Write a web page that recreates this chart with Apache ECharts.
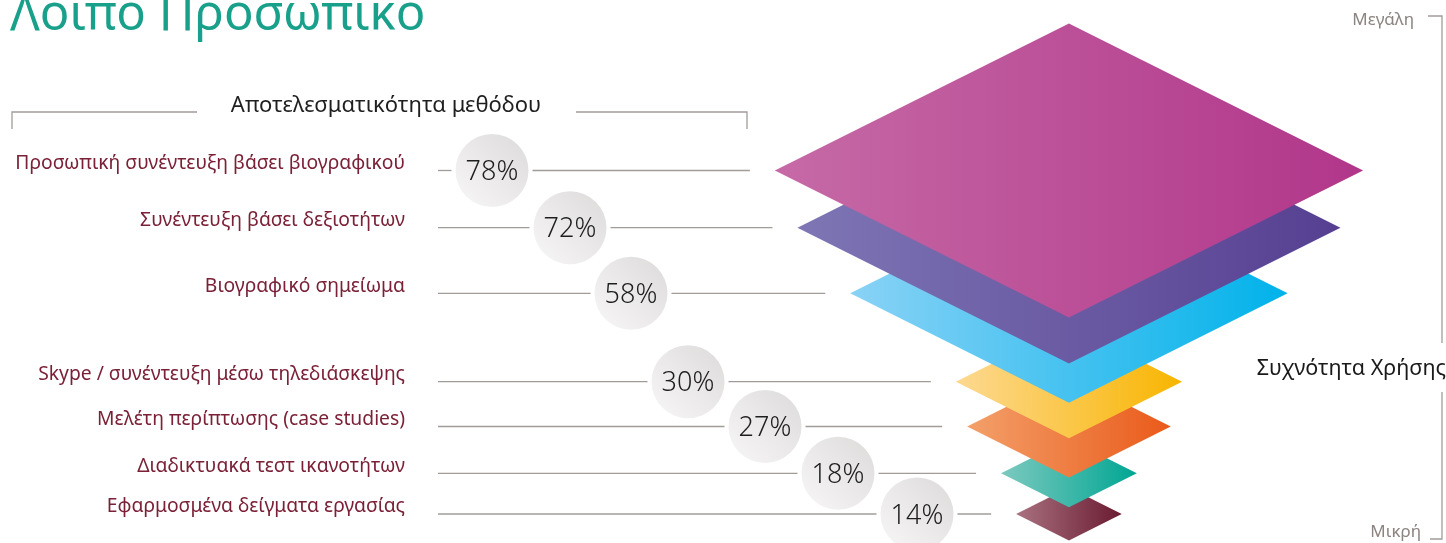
<!DOCTYPE html>
<html>
<head>
<meta charset="utf-8">
<script src="https://cdn.jsdelivr.net/npm/echarts@6/dist/echarts.min.js"></script>
<style>
html,body{margin:0;padding:0;background:#fff;}
#chart{width:1446px;height:543px;}
</style>
</head>
<body>
<div id="chart"></div>
<script>
// ---- data ----
const title = 'Λοιπό Προσωπικό';
const headerLabel = 'Αποτελεσματικότητα μεθόδου';
const frequencyLabel = 'Συχνότητα Χρήσης';
const frequencyHigh = 'Μεγάλη';
const frequencyLow = 'Μικρή';
const categories = [
  'Προσωπική συνέντευξη βάσει βιογραφικού',
  'Συνέντευξη βάσει δεξιοτήτων',
  'Βιογραφικό σημείωμα',
  'Skype / συνέντευξη μέσω τηλεδιάσκεψης',
  'Μελέτη περίπτωσης (case studies)',
  'Διαδικτυακά τεστ ικανοτήτων',
  'Εφαρμοσμένα δείγματα εργασίας'
];
const effectiveness = [78, 72, 58, 30, 27, 18, 14];

// ---- layout (pixels) ----
const rowY = [170.5, 227.7, 293.3, 381.7, 426.5, 473.3, 514];
const badgeX = [492, 570, 631, 688, 765, 838, 917];
const labelRight = 405;
const lineStart = 438;
const badgeR = 36.5;
const lineGapToDiamond = 25;

// ---- styles ----
const gradients = [
  ['#c66aa6', '#b1368a'],
  ['#7e76b5', '#563f91'],
  ['#8ad2f6', '#00b2ea'],
  ['#fdd992', '#f8b500'],
  ['#f3a06a', '#ea5a1a'],
  ['#7dc9bf', '#00a693'],
  ['#a97280', '#6a1a31']
];
const font = 'Noto Sans';
const lineColor = '#a29c98';

const chart = echarts.init(document.getElementById('chart'));

function diamondItem(params, api) {
  const v = api.value(0), y = api.value(1), i = api.value(2);
  const c = api.coord([0, y]);
  const e = api.coord([v, y]);
  const hw = e[0] - c[0];
  const hh = hw * 0.5;
  return {
    type: 'polygon',
    z2: 100 - i,
    shape: { points: [[c[0], c[1] - hh], [c[0] + hw, c[1]], [c[0], c[1] + hh], [c[0] - hw, c[1]]] },
    style: {
      fill: new echarts.graphic.LinearGradient(0, 0, 1, 0, [
        { offset: 0, color: gradients[i][0] },
        { offset: 1, color: gradients[i][1] }
      ])
    }
  };
}

function rowItem(params, api) {
  const v = api.value(0), y = api.value(1), i = api.value(2);
  const c = api.coord([0, y]);
  const e = api.coord([v, y]);
  const hw = e[0] - c[0];
  const py = c[1];
  const bx = badgeX[i];
  const lineEnd = c[0] - hw - lineGapToDiamond;
  return {
    type: 'group',
    children: [
      { type: 'line', shape: { x1: lineStart, y1: py, x2: bx - badgeR - 4, y2: py }, style: { stroke: lineColor, lineWidth: 1.3 } },
      { type: 'line', shape: { x1: bx + badgeR + 4, y1: py, x2: lineEnd, y2: py }, style: { stroke: lineColor, lineWidth: 1.3 } },
      { type: 'circle', shape: { cx: bx, cy: py, r: badgeR },
        style: { fill: new echarts.graphic.LinearGradient(0, 1, 1, 0, [
          { offset: 0, color: '#f8f7f7' }, { offset: 1, color: '#dddada' }]) } },
      { type: 'text', x: bx, y: py + 2,
        style: { text: v + '%', fill: '#1e1e1e', font: '300 27px "' + font + '"', align: 'center', verticalAlign: 'middle' } },
      { type: 'text', x: labelRight, y: py - 7,
        style: { text: categories[i], fill: '#7a2137', font: '19.3px "' + font + '"', align: 'right', verticalAlign: 'middle' } }
    ]
  };
}

const seriesData = effectiveness.map((v, i) => [v, rowY[i], i]);

chart.setOption({
  animation: false,
  grid: { left: 0, right: 0, top: 0, bottom: 0 },
  xAxis: { type: 'value', min: -283.5, max: 100, show: false },
  yAxis: { type: 'value', min: 0, max: 543, inverse: true, show: false },
  series: [
    { type: 'custom', renderItem: rowItem, data: seriesData, z: 2 },
    { type: 'custom', renderItem: diamondItem, data: seriesData, z: 3 }
  ],
  graphic: [
    { type: 'text', left: 10, top: -8,
      style: { text: title, fill: '#18a08b', font: '49px "' + font + '"' } },
    { type: 'text', x: 386, y: 106,
      style: { text: headerLabel, fill: '#1f1f1f', font: '22px "' + font + '"', align: 'center', verticalAlign: 'middle' } },
    { type: 'polyline', shape: { points: [[12, 129], [12, 112], [197, 112]] }, style: { stroke: lineColor, lineWidth: 1.3, fill: null } },
    { type: 'polyline', shape: { points: [[576, 112], [747, 112], [747, 129]] }, style: { stroke: lineColor, lineWidth: 1.3, fill: null } },
    { type: 'text', x: 1414, y: 20,
      style: { text: frequencyHigh, fill: '#8c8480', font: '17px "' + font + '"', align: 'right', verticalAlign: 'middle' } },
    { type: 'text', x: 1421, y: 532,
      style: { text: frequencyLow, fill: '#8c8480', font: '17px "' + font + '"', align: 'right', verticalAlign: 'middle' } },
    { type: 'text', x: 1446, y: 369,
      style: { text: frequencyLabel, fill: '#1a1a1a', font: '21.5px "' + font + '"', align: 'right', verticalAlign: 'middle' } },
    { type: 'polyline', shape: { points: [[1428, 16], [1442, 16], [1442, 343]] }, style: { stroke: lineColor, lineWidth: 1.3, fill: null } },
    { type: 'polyline', shape: { points: [[1442, 392], [1442, 539], [1430, 539]] }, style: { stroke: lineColor, lineWidth: 1.3, fill: null } }
  ]
});
</script>
</body>
</html>
